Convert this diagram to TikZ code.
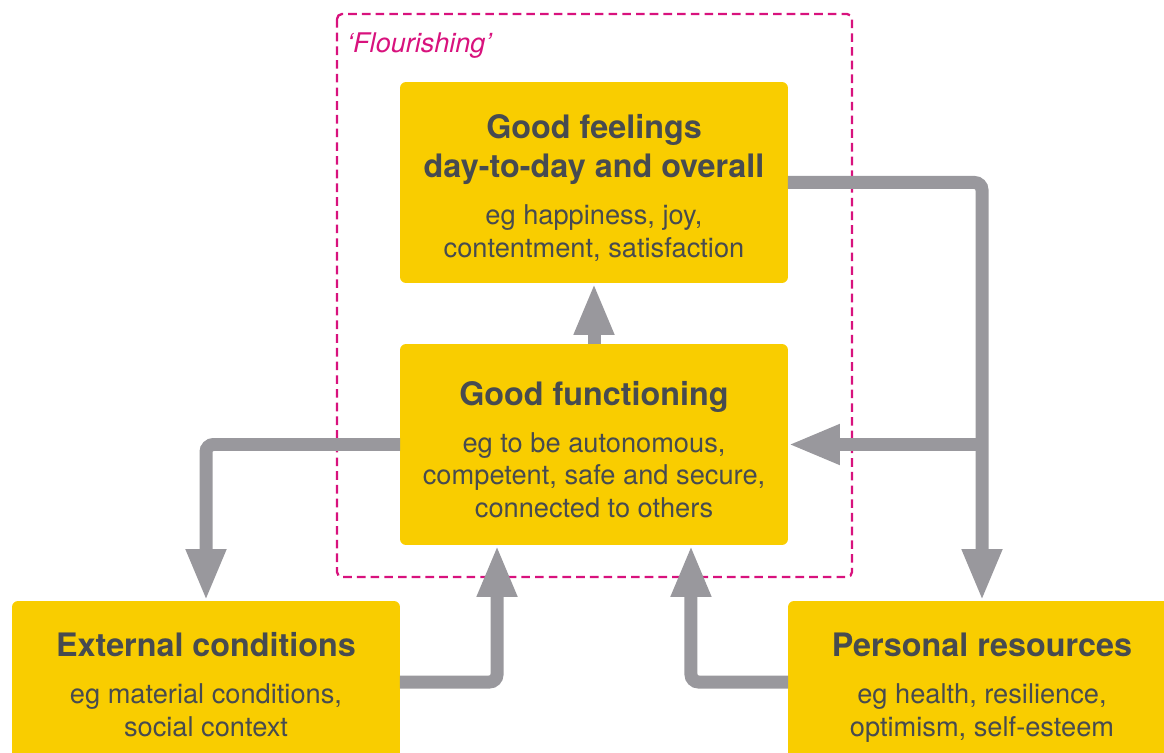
\documentclass[tikz,border=0pt]{standalone}
\usepackage{fontspec}
\setmainfont{TeX Gyre Heros}
\usetikzlibrary{arrows.meta,calc}

\definecolor{boxyellow}{HTML}{F9CD00}
\definecolor{flowgrey}{HTML}{99989D}
\definecolor{framepink}{HTML}{D8127D}
\definecolor{textgrey}{HTML}{474B50}

% bold heading lines inside a box; \hdtop also pushes the text block down a little
\def\hd#1{{\fontsize{18.4}{22.1}\selectfont\bfseries #1}}
\def\hdtop#1#2{\rule{0pt}{#1}\hd{#2}}

\tikzset{
	box/.style={fill=boxyellow, rounded corners=0.12cm, minimum width=7.76cm,
		minimum height=4.02cm, align=center, text=textgrey, inner sep=0pt,
		outer sep=0pt, font=\fontsize{15.5}{18.7}\selectfont},
	flow/.style={draw=flowgrey, line width=0.26cm, rounded corners=0.15cm,
		-{Triangle[length=1.04cm,width=0.74cm]}},
	frame/.style={draw=framepink, line width=1.3pt, rounded corners=0.1cm,
		dash pattern=on 4.9pt off 2.9pt},
}

\begin{document}
\begin{tikzpicture}[x=0.02cm, y=-0.02cm]
	\useasboundingbox (0,0) rectangle (1164,753);
	\clip (0,0) rectangle (1164,753);

	% the flourishing frame
	\draw[frame] (337,14) rectangle (852,577);
	\node[anchor=base west, text=framepink, font=\fontsize{15.4}{18}\selectfont\itshape]
		(flour) at (341,53) {`Flourishing'};

	\node[box] (feel) at (594,182.5) {\hdtop{20pt}{Good feelings}\\[3.4pt] \hd{day-to-day and overall}\\[8pt]
		eg happiness, joy,\\ contentment, satisfaction};
	\node[box] (func) at (594,444.5) {\hdtop{19.5pt}{Good functioning}\\[8pt]
		eg to be autonomous,\\ competent, safe and secure,\\ connected to others};
	\node[box, minimum height=3.24cm] (ext) at (206,682) {\hdtop{16.5pt}{External conditions}\\[8pt]
		eg material conditions,\\ social context};
	\node[box, minimum height=3.24cm] (pers) at (982,682) {\hdtop{20pt}{Personal resources}\\[8pt]
		eg health, resilience,\\ optimism, self-esteem};

	\coordinate (split) at (pers.north |- func.east);

	\draw[flow] (func) -- (feel);
	\draw[flow] (feel.east) -| (pers.north);
	\draw[flow] (split) -- (func.east);
	\draw[flow] (func.west) -| (ext.north);
	\draw[flow] (ext.east) -| ($(func.south)!0.5!(func.south west)$);
	\draw[flow] (pers.west) -| ($(func.south)!0.5!(func.south east)$);
\end{tikzpicture}
\end{document}
